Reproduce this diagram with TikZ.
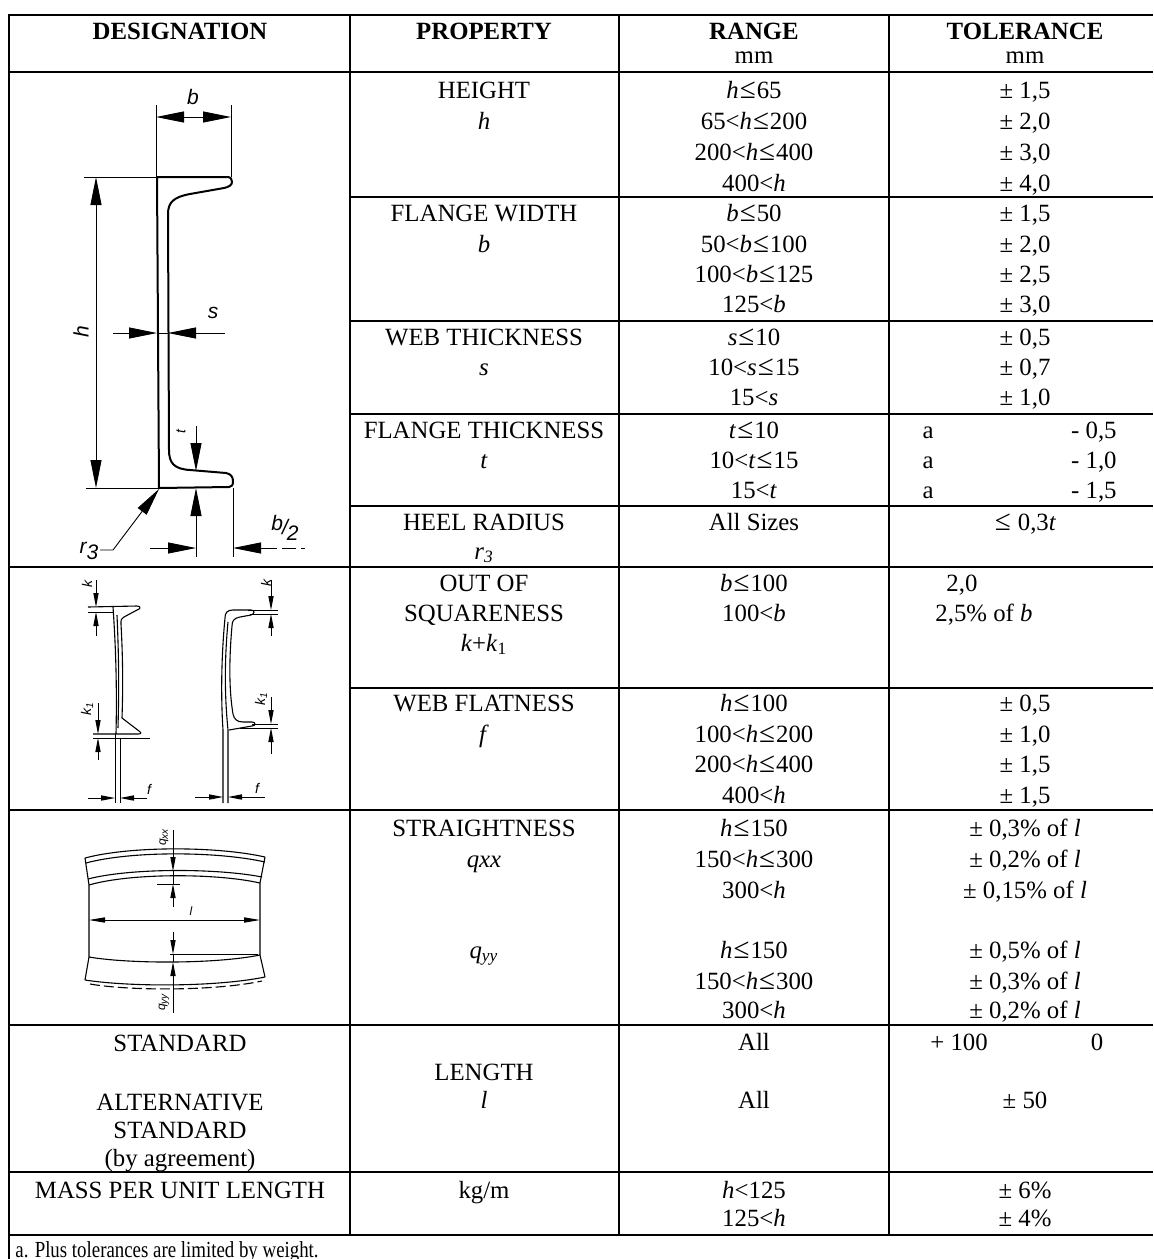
\documentclass[tikz,border=0pt]{standalone}
\usepackage{fontspec}
\setmainfont{Liberation Serif}
\newfontfamily\dimfont{Liberation Sans}
\usetikzlibrary{arrows.meta}

\newcommand\lesym{\kern0.5pt{\fontsize{14.5}{15}\selectfont ≤}\kern0.5pt}

\tikzset{
  rule/.style={line width=0.75pt},
  dimrule/.style={line width=0.45pt},
  sect/.style={line width=0.55pt, line join=round},
  profile/.style={line width=1pt, line join=round},
  bigone/.style={dimrule, -{Triangle[length=14pt,width=5.5pt]}},
  bigboth/.style={dimrule, {Triangle[length=14pt,width=5.5pt]}-{Triangle[length=14pt,width=5.5pt]}},
  smallone/.style={dimrule, -{Triangle[length=7pt,width=2.6pt]}},
  smallboth/.style={dimrule, {Triangle[length=8pt,width=2.6pt]}-{Triangle[length=8pt,width=2.6pt]}},
  txt/.style={anchor=base, inner sep=0pt, font=\fontsize{12.4}{15}\selectfont},
  hd/.style={txt, font=\fontsize{12.4}{15}\selectfont\bfseries},
  lbl/.style={inner sep=0pt, font=\dimfont\itshape\fontsize{10.5}{11}\selectfont},
  slbl/.style={inner sep=0pt, font=\dimfont\itshape\fontsize{7}{8}\selectfont},
}

\begin{document}
\begin{tikzpicture}[x=0.5pt, y=-0.5pt]
  \useasboundingbox (0,0) rectangle (1153,1259);

  % Table rules
  \draw[rule] (9,1259) -- (9,15) -- (1153,15);
  \draw[rule] (9,72) -- (1153,72);
  \draw[rule] (350,197) -- (1153,197);
  \draw[rule] (350,321) -- (1153,321);
  \draw[rule] (350,414) -- (1153,414);
  \draw[rule] (350,506) -- (1153,506);
  \draw[rule] (9,567) -- (1153,567);
  \draw[rule] (350,688) -- (1153,688);
  \draw[rule] (9,810) -- (1153,810);
  \draw[rule] (9,1025) -- (1153,1025);
  \draw[rule] (9,1172) -- (1153,1172);
  \draw[rule] (9,1235) -- (1153,1235);
  \draw[rule] (350,15) -- (350,1235);
  \draw[rule] (619,15) -- (619,1235);
  \draw[rule] (889,15) -- (889,1235);

  % Header
  \node[hd] (hdes) at (180,39) {DESIGNATION};
  \node[hd] (hprop) at (484,39) {PROPERTY};
  \node[hd] (hrange) at (754,39) {RANGE};
  \node[hd] (htol) at (1025,39) {TOLERANCE};
  \node[txt] (mmr) at (754,63) {mm};
  \node[txt] (mmt) at (1025,63) {mm};

  % Height
  \node[txt] (ph1) at (484,98) {HEIGHT};
  \node[txt] (ph2) at (484,129) {\textit{h}};
  \node[txt] (rh1) at (754,98) {\textit{h}\lesym65};
  \node[txt] (rh2) at (754,129) {65<\textit{h}\lesym200};
  \node[txt] (rh3) at (754,160) {200<\textit{h}\lesym400};
  \node[txt] (rh4) at (754,191) {400<\textit{h}};
  \node[txt] (th1) at (1025,98) {± 1,5};
  \node[txt] (th2) at (1025,129) {± 2,0};
  \node[txt] (th3) at (1025,160) {± 3,0};
  \node[txt] (th4) at (1025,191) {± 4,0};

  % Flange width
  \node[txt] (pb1) at (484,221) {FLANGE WIDTH};
  \node[txt] (pb2) at (484,252) {\textit{b}};
  \node[txt] (rb1) at (754,221) {\textit{b}\lesym50};
  \node[txt] (rb2) at (754,252) {50<\textit{b}\lesym100};
  \node[txt] (rb3) at (754,282) {100<\textit{b}\lesym125};
  \node[txt] (rb4) at (754,312) {125<\textit{b}};
  \node[txt] (tb1) at (1025,221) {± 1,5};
  \node[txt] (tb2) at (1025,252) {± 2,0};
  \node[txt] (tb3) at (1025,282) {± 2,5};
  \node[txt] (tb4) at (1025,312) {± 3,0};

  % Web thickness
  \node[txt] (ps1) at (484,345) {WEB THICKNESS};
  \node[txt] (ps2) at (484,375) {\textit{s}};
  \node[txt] (rs1) at (754,345) {\textit{s}\lesym10};
  \node[txt] (rs2) at (754,375) {10<\textit{s}\lesym15};
  \node[txt] (rs3) at (754,405) {15<\textit{s}};
  \node[txt] (ts1) at (1025,345) {± 0,5};
  \node[txt] (ts2) at (1025,375) {± 0,7};
  \node[txt] (ts3) at (1025,405) {± 1,0};

  % Flange thickness
  \node[txt] (pt1) at (484,438) {FLANGE THICKNESS};
  \node[txt] (pt2) at (484,468) {\textit{t}};
  \node[txt] (rt1) at (754,438) {\textit{t}\lesym10};
  \node[txt] (rt2) at (754,468) {10<\textit{t}\lesym15};
  \node[txt] (rt3) at (754,498) {15<\textit{t}};
  \node[txt] (ta1) at (928,438) {a};
  \node[txt] (ta2) at (928,468) {a};
  \node[txt] (ta3) at (928,498) {a};
  \node[txt, anchor=base east] (tt1) at (1117,438) {- 0,5};
  \node[txt, anchor=base east] (tt2) at (1117,468) {- 1,0};
  \node[txt, anchor=base east] (tt3) at (1117,498) {- 1,5};

  % Heel radius
  \node[txt] (pr1) at (484,530) {HEEL RADIUS};
  \node[txt] (pr2) at (484,559) {\textit{r}\textsubscript{\textit{3}}};
  \node[txt] (rr1) at (754,530) {All Sizes};
  \node[txt] (tr1) at (1025,530) {\lesym\ 0,3\textit{t}};

  % Out of squareness
  \node[txt] (pk1) at (484,591) {OUT OF};
  \node[txt] (pk2) at (484,621) {SQUARENESS};
  \node[txt] (pk3) at (484,651) {\textit{k}+\textit{k}\textsubscript{1}};
  \node[txt] (rk1) at (754,591) {\textit{b}\lesym100};
  \node[txt] (rk2) at (754,621) {100<\textit{b}};
  \node[txt, anchor=base west] (tk1) at (946,591) {2,0};
  \node[txt, anchor=base west] (tk2) at (935,621) {2,5\% of \textit{b}};

  % Web flatness
  \node[txt] (pf1) at (484,711) {WEB FLATNESS};
  \node[txt] (pf2) at (484,742) {\textit{f}};
  \node[txt] (rf1) at (754,711) {\textit{h}\lesym100};
  \node[txt] (rf2) at (754,742) {100<\textit{h}\lesym200};
  \node[txt] (rf3) at (754,772) {200<\textit{h}\lesym400};
  \node[txt] (rf4) at (754,803) {400<\textit{h}};
  \node[txt] (tf1) at (1025,711) {± 0,5};
  \node[txt] (tf2) at (1025,742) {± 1,0};
  \node[txt] (tf3) at (1025,772) {± 1,5};
  \node[txt] (tf4) at (1025,803) {± 1,5};

  % Straightness
  \node[txt] (pq1) at (484,836) {STRAIGHTNESS};
  \node[txt] (pq2) at (484,867) {\textit{qxx}};
  \node[txt] (pq3) at (484,958) {\textit{q}\textsubscript{\textit{yy}}};
  \node[txt] (rq1) at (754,836) {\textit{h}\lesym150};
  \node[txt] (rq2) at (754,867) {150<\textit{h}\lesym300};
  \node[txt] (rq3) at (754,898) {300<\textit{h}};
  \node[txt] (rq4) at (754,958) {\textit{h}\lesym150};
  \node[txt] (rq5) at (754,989) {150<\textit{h}\lesym300};
  \node[txt] (rq6) at (754,1018) {300<\textit{h}};
  \node[txt] (tq1) at (1025,836) {± 0,3\% of \textit{l}};
  \node[txt] (tq2) at (1025,867) {± 0,2\% of \textit{l}};
  \node[txt] (tq3) at (1025,898) {± 0,15\% of \textit{l}};
  \node[txt] (tq4) at (1025,958) {± 0,5\% of \textit{l}};
  \node[txt] (tq5) at (1025,989) {± 0,3\% of \textit{l}};
  \node[txt] (tq6) at (1025,1018) {± 0,2\% of \textit{l}};

  % Length
  \node[txt] (dl1) at (180,1051) {STANDARD};
  \node[txt] (dl2) at (180,1110) {ALTERNATIVE};
  \node[txt] (dl3) at (180,1138) {STANDARD};
  \node[txt] (dl4) at (180,1166) {(by agreement)};
  \node[txt] (pl1) at (484,1080) {LENGTH};
  \node[txt] (pl2) at (484,1108) {\textit{l}};
  \node[txt] (rl1) at (754,1050) {All};
  \node[txt] (rl2) at (754,1108) {All};
  \node[txt, anchor=base west] (tl1) at (930,1050) {+ 100};
  \node[txt] (tl2) at (1097,1050) {0};
  \node[txt] (tl3) at (1025,1108) {± 50};

  % Mass per unit length
  \node[txt] (dm1) at (180,1198) {MASS PER UNIT LENGTH};
  \node[txt] (pm1) at (484,1198) {kg/m};
  \node[txt] (rm1) at (754,1198) {\textit{h}<125};
  \node[txt] (rm2) at (754,1226) {125<\textit{h}};
  \node[txt] (tm1) at (1025,1198) {± 6\%};
  \node[txt] (tm2) at (1025,1226) {± 4\%};

  % Footnote
  \node[txt, anchor=base west, font=\fontsize{11.5}{13}\selectfont] (note) at (15,1257) {\scalebox{0.82}[1]{a. Plus tolerances are limited by weight.}};

  % Channel section with dimensions
  \draw[profile] (157,177) -- (227,177) .. controls (231,177) and (232,179) .. (232,182)
    .. controls (232,185) and (229,187) .. (224,188) -- (190,194)
    .. controls (174,197) and (168,202) .. (168,214) -- (169,450)
    .. controls (169,463) and (174,469) .. (190,470) -- (226,473)
    .. controls (231,474) and (233,477) .. (233,481)
    .. controls (233,485) and (232,487) .. (229,487) -- (159,488) -- cycle;
  \draw[dimrule] (156,105) -- (156,177);
  \draw[dimrule] (231,105) -- (231,177);
  \draw[bigboth] (156,117) -- (231,117);
  \draw[dimrule] (84,177) -- (157,177);
  \draw[dimrule] (86,488) -- (159,488);
  \draw[bigboth] (96,177) -- (96,488);
  \draw[dimrule] (157,333) -- (168,333);
  \draw[bigone] (113,333) -- (157,333);
  \draw[bigone] (225,333) -- (168,333);
  \draw[bigone] (196,426) -- (196,471);
  \draw[bigone] (196,557) -- (196,488);
  \draw[dimrule] (233,488) -- (233,557);
  \draw[bigone] (150,548) -- (196,548);
  \draw[bigone] (263,548) -- (233,548);
  \draw[dimrule, dash pattern=on 7pt off 2.5pt] (263,548) -- (305,548);
  \draw[bigone] (100,550) -- (113,550) -- (159,489);
  \node[lbl] (lb) at (193,97) {b};
  \node[lbl, rotate=90] (lh) at (81,332) {h};
  \node[lbl] (ls) at (213,313) {s};
  \node[slbl, rotate=90] (lt) at (181,432) {t};
  \node[lbl] (lbh) at (285,528) {b\kern-0.5pt\raisebox{-2pt}{/}\kern-0.5pt\raisebox{-5pt}{2}};
  \node[lbl] (lr) at (89,551) {r\raisebox{-3pt}{3}};

  % Out of squareness and web flatness: flanged section
  \draw[sect] (88,607) -- (137,606) .. controls (141,606) and (141,609) .. (137,610)
    -- (124,617) .. controls (121,618) and (121,620) .. (121,624)
    .. controls (123,660) and (123,690) .. (122,718) -- (139,731)
    .. controls (142,733) and (141,734) .. (138,734) -- (93,734);
  \draw[sect] (113,607) .. controls (116,650) and (117,690) .. (116,734);
  \draw[sect] (117,615) .. controls (119,660) and (119,690) .. (118,728);
  \draw[dimrule] (88,612) -- (114,612);
  \draw[dimrule] (93,738) -- (150,738);
  \draw[dimrule] (115,734) -- (115,803);
  \draw[dimrule] (120,738) -- (120,803);
  \draw[smallone] (96,580) -- (96,607);
  \draw[smallone] (96,636) -- (96,612);
  \draw[smallone] (98,703) -- (98,734);
  \draw[smallone] (98,760) -- (98,738);
  \draw[smallone] (88,798) -- (115,798);
  \draw[smallone] (147,798) -- (120,798);
  \node[slbl, rotate=90] (lk) at (87,584) {k};
  \node[slbl, rotate=90] (lk1) at (87,709) {k\textsubscript{1}};
  \node[slbl] (lf) at (149,789) {f};

  % Out of squareness and web flatness: channel
  \draw[sect] (233,610) -- (251,610) .. controls (255,610) and (255,614) .. (251,615)
    -- (240,617) .. controls (234,618) and (232,621) .. (232,626)
    .. controls (229,660) and (229,690) .. (233,714)
    .. controls (234,719) and (237,722) .. (243,722) -- (252,722)
    .. controls (256,722) and (256,726) .. (252,726) -- (229,730);
  \draw[sect] (233,610) .. controls (227,610) and (225,613) .. (225,618)
    .. controls (221,660) and (221,700) .. (223,730) -- (223,803);
  \draw[sect] (228,622) .. controls (224,665) and (225,700) .. (228,730) -- (228,803);
  \draw[dimrule] (248,610) -- (278,610);
  \draw[dimrule] (250,614) -- (278,614);
  \draw[dimrule] (252,724) -- (278,724);
  \draw[dimrule] (240,728) -- (278,728);
  \draw[smallone] (271,580) -- (271,610);
  \draw[smallone] (271,636) -- (271,614);
  \draw[smallone] (271,697) -- (271,724);
  \draw[smallone] (271,754) -- (271,728);
  \draw[smallone] (195,797) -- (223,797);
  \draw[smallone] (265,797) -- (228,797);
  \node[slbl, rotate=90] (rk) at (266,583) {k};
  \node[slbl, rotate=90] (rk1) at (261,699) {k\textsubscript{1}};
  \node[slbl] (rf) at (257,788) {f};

  % Straightness: bent member
  \draw[sect] (85,858) .. controls (130,846) and (216,846) .. (265,857);
  \draw[sect] (86,863) .. controls (130,851) and (216,851) .. (265,862);
  \draw[sect] (88,879) .. controls (130,868) and (216,868) .. (262,877);
  \draw[sect] (89,885) .. controls (130,873) and (216,873) .. (260,883);
  \draw[sect] (85,858) -- (89,885) -- (89,957);
  \draw[sect] (265,857) -- (260,883) -- (260,955);
  \draw[sect] (89,957) .. controls (130,964) and (216,964) .. (260,955);
  \draw[sect] (85,980) .. controls (130,987) and (216,987) .. (265,977);
  \draw[sect, dash pattern=on 5pt off 2pt] (90,984) .. controls (130,991) and (216,991) .. (262,981);
  \draw[sect] (89,957) -- (85,980);
  \draw[sect] (260,955) -- (265,977);
  \draw[dimrule] (157,884) -- (180,884);
  \draw[dimrule] (170,954) -- (258,954);
  \draw[smallboth] (89,920) -- (260,920);
  \draw[dimrule] (173,871) -- (173,884);
  \draw[smallone] (173,830) -- (173,871);
  \draw[smallone] (173,907) -- (173,884);
  \draw[dimrule] (173,954) -- (173,962);
  \draw[smallone] (173,932) -- (173,954);
  \draw[smallone] (173,1013) -- (173,962);
  \node[slbl, font=\dimfont\itshape\fontsize{6}{7}\selectfont] (ll) at (191,911) {l};
  \node[slbl, rotate=90, font=\dimfont\itshape\fontsize{6}{7}\selectfont] (lqx) at (164,837) {q\textsubscript{xx}};
  \node[slbl, rotate=90, font=\dimfont\itshape\fontsize{6}{7}\selectfont] (lqy) at (164,1002) {q\textsubscript{yy}};
\end{tikzpicture}
\end{document}
